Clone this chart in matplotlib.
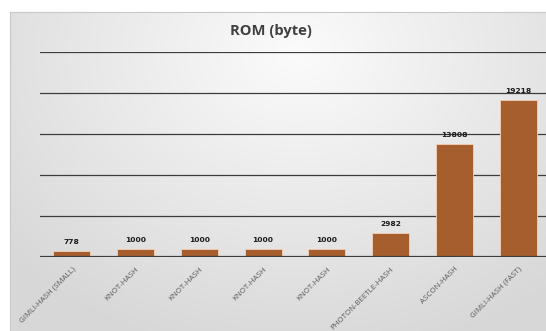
import numpy as np
import matplotlib
matplotlib.use('Agg')
import matplotlib.pyplot as plt

# ROM footprint per hash implementation
algorithms = ['GIMLI-HASH (SMALL)', 'KNOT-HASH', 'KNOT-HASH', 'KNOT-HASH',
              'KNOT-HASH', 'PHOTON-BEETLE-HASH', 'ASCON-HASH', 'GIMLI-HASH (FAST)']
rom_bytes = [778, 1000, 1000, 1000, 1000, 2982, 13808, 19218]
y_ticks = [0, 5000, 10000, 15000, 20000, 25000]

W, H = 546, 331
fig = plt.figure(figsize=(W / 100, H / 100), dpi=100)
fig.patch.set_facecolor('white')

# chart area with a soft radial grey gradient
bg = fig.add_axes([10 / W, 0, (W - 10) / W, (H - 12) / H])
yy, xx = np.mgrid[0:320, 0:540]
dist = np.sqrt(((xx - 290) / 420.0) ** 2 + ((yy - 40) / 330.0) ** 2)
shade = np.clip(0.985 - 0.15 * dist, 0.845, 0.985)
bg.imshow(np.dstack([shade] * 3), aspect='auto', extent=[0, 1, 0, 1],
          origin='upper', interpolation='bilinear')
bg.set_xlim(0, 1)
bg.set_ylim(0, 1)
for side in ['right', 'bottom']:
    bg.spines[side].set_visible(False)
bg.spines['left'].set_color('#c8c8c8')
bg.spines['top'].set_color('#c8c8c8')
bg.set_xticks([])
bg.set_yticks([])

fig.text(271 / W, 1 - 31 / H, 'ROM (byte)', ha='center', va='center',
         fontsize=10.6, fontweight='bold', color='#404040', family='Open Sans')

ax = fig.add_axes([40 / W, 73.7 / H, 510 / W, 205 / H])
ax.set_facecolor('none')
x = np.arange(len(algorithms))
bars = ax.bar(x, rom_bytes, width=0.58, color='#a65e2e',
              edgecolor='#f2d2b8', linewidth=0.6, zorder=3)
ax.set_xlim(-0.5, len(algorithms) - 0.5)
ax.set_ylim(0, 25000)

for yv in y_ticks[1:]:
    ax.axhline(yv, color='#3c3c3c', linewidth=0.9, zorder=1)
ax.axhline(0, color='#3c3c3c', linewidth=1.6, zorder=4)

for rect, val in zip(bars, rom_bytes):
    ax.annotate(str(val), (rect.get_x() + rect.get_width() / 2, val),
                xytext=(0, 4.2), textcoords='offset points', ha='center',
                va='bottom', fontsize=5.4, fontweight='bold', color='#1a1a1a')

ax.set_xticks(x)
ax.set_xticklabels(algorithms, rotation=45, ha='right', rotation_mode='anchor',
                   fontsize=5.7, color='#595959', family='Open Sans')
ax.tick_params(axis='x', length=0, pad=6)
ax.set_yticks([])
for side in ax.spines.values():
    side.set_visible(False)

fig.savefig('out.png', dpi=100, facecolor='white')
